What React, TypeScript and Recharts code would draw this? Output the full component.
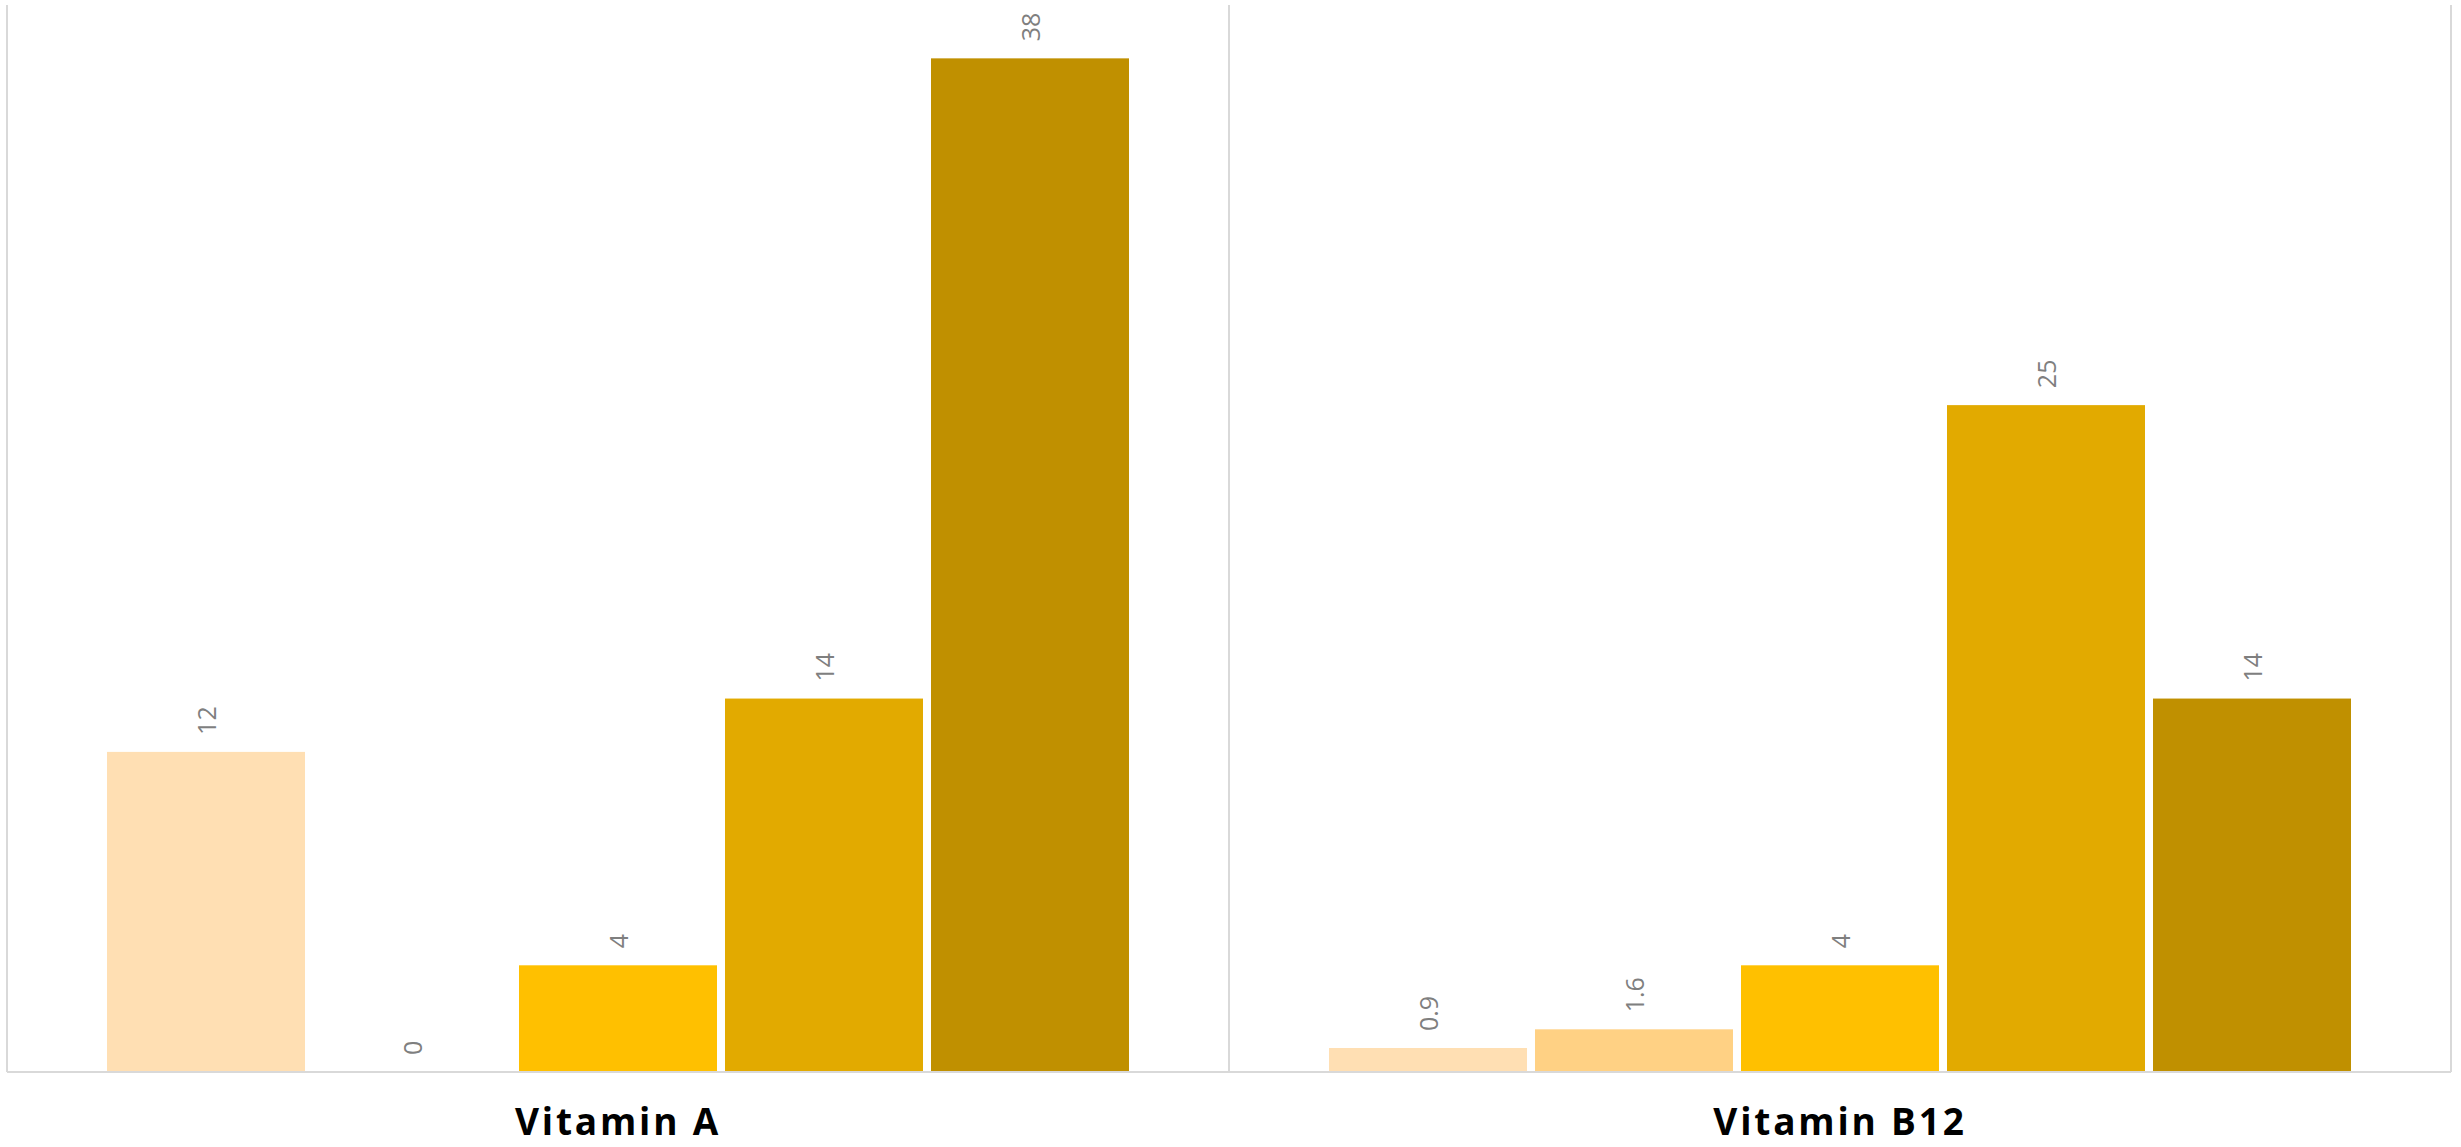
import { BarChart, Bar, XAxis, YAxis, CartesianGrid } from 'recharts'

const CATEGORIES = ['Vitamin A', 'Vitamin B12']
const SERIES_1 = [12, 0.9]
const SERIES_2 = [0, 1.6]
const SERIES_3 = [4, 4]
const SERIES_4 = [14, 25]
const SERIES_5 = [38, 14]

const SERIES_KEYS = ['s1', 's2', 's3', 's4', 's5']
const COLORS = ['#FFDFB3', '#FFD184', '#FFC000', '#E2AA00', '#C09000']

const chartData = CATEGORIES.map((name, i) => ({
  name,
  s1: SERIES_1[i],
  s2: SERIES_2[i],
  s3: SERIES_3[i],
  s4: SERIES_4[i],
  s5: SERIES_5[i],
}))

// bar plus its rotated value label, drawn together so zero-height bars still get a label
const BarWithLabel = (props: any) => {
  const { x, y, width, height, fill, value } = props
  const cx = x + width / 2
  const cy = y - 17
  return (
    <g>
      {height > 0 && <rect x={x} y={y} width={width} height={height} fill={fill} />}
      <text
        x={cx}
        y={cy}
        transform={`rotate(-90 ${cx} ${cy})`}
        textAnchor="start"
        dominantBaseline="central"
        fill="#7F7F7F"
        fontSize={25}
        fontFamily="'Open Sans', sans-serif"
      >
        {String(value)}
      </text>
    </g>
  )
}

const CategoryTick = (props: any) => {
  const { x, y, payload } = props
  return (
    <text
      x={x}
      y={y + 63}
      textAnchor="middle"
      fill="#000000"
      fontSize={37}
      fontWeight={700}
      letterSpacing={2.8}
      fontFamily="'Open Sans', sans-serif"
    >
      {payload.value}
    </text>
  )
}

export default function App() {
  return (
    <div style={{ position: 'absolute', left: 0, top: 0, background: '#fff' }}>
      <BarChart
        width={2461}
        height={1147}
        data={chartData}
        margin={{ top: 5, right: 10, bottom: 0, left: 7 }}
        barCategoryGap={100}
        barGap={8}
      >
        <CartesianGrid
          horizontal={false}
          stroke="#D9D9D9"
          strokeWidth={2}
          verticalCoordinatesGenerator={({ offset }: any) => [
            offset.left,
            offset.left + offset.width / 2,
            offset.left + offset.width,
          ]}
        />
        <XAxis
          dataKey="name"
          height={75}
          tickLine={false}
          tickSize={0}
          tickMargin={0}
          axisLine={{ stroke: '#D9D9D9', strokeWidth: 2 }}
          tick={<CategoryTick />}
        />
        <YAxis hide domain={[0, 40]} />
        {SERIES_KEYS.map((key, i) => (
          <Bar
            key={key}
            dataKey={key}
            fill={COLORS[i]}
            isAnimationActive={false}
            shape={<BarWithLabel />}
          />
        ))}
      </BarChart>
    </div>
  )
}
